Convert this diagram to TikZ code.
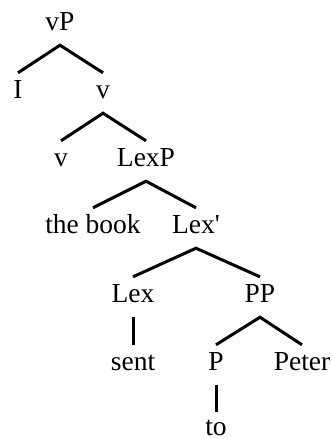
\documentclass[tikz,border=0pt]{standalone}
\usepackage{fontspec}
\setmainfont{Liberation Serif}
\begin{document}
\begin{tikzpicture}[x=1pt,y=-1pt,
  lbl/.style={anchor=base,inner xsep=0pt,inner ysep=6pt,text height=19pt,text depth=9pt,font=\fontsize{27.5}{30}\selectfont},
  leaf/.style={lbl,inner ysep=0pt,text height=23pt,text depth=0pt},
  br/.style={line width=3pt}]
\useasboundingbox (0,0) rectangle (332,439);
\node[lbl] (vP) at (60,30) {vP};
\node[lbl] (I) at (18,98) {I};
\node[lbl] (v1) at (103,98) {v};
\node[lbl] (v2) at (61,166) {v};
\node[lbl] (LexP) at (146,166) {LexP};
\node[lbl] (tb) at (93,233) {the book};
\node[lbl] (Lexb) at (196,233) {Lex\textquotesingle};
\node[lbl] (Lex) at (133,302) {Lex};
\node[lbl] (PP) at (260,302) {PP};
\node[lbl] (sent) at (133,370) {sent};
\node[lbl] (P) at (216,370) {P};
\node[lbl] (Peter) at (302,370) {Peter};
\node[leaf] (to) at (216,435) {to};
\draw[br] (I.north) -- (vP.south) -- (v1.north);
\draw[br] (v2.north) -- (v1.south) -- (LexP.north);
\draw[br] (tb.north) -- (LexP.south) -- (Lexb.north);
\draw[br] (Lex.north) -- (Lexb.south) -- (PP.north);
\draw[br] (P.north) -- (PP.south) -- (Peter.north);
\draw[br] (Lex.south) -- (sent.north);
\draw[br] (P.south) -- (to.north);
\end{tikzpicture}
\end{document}
